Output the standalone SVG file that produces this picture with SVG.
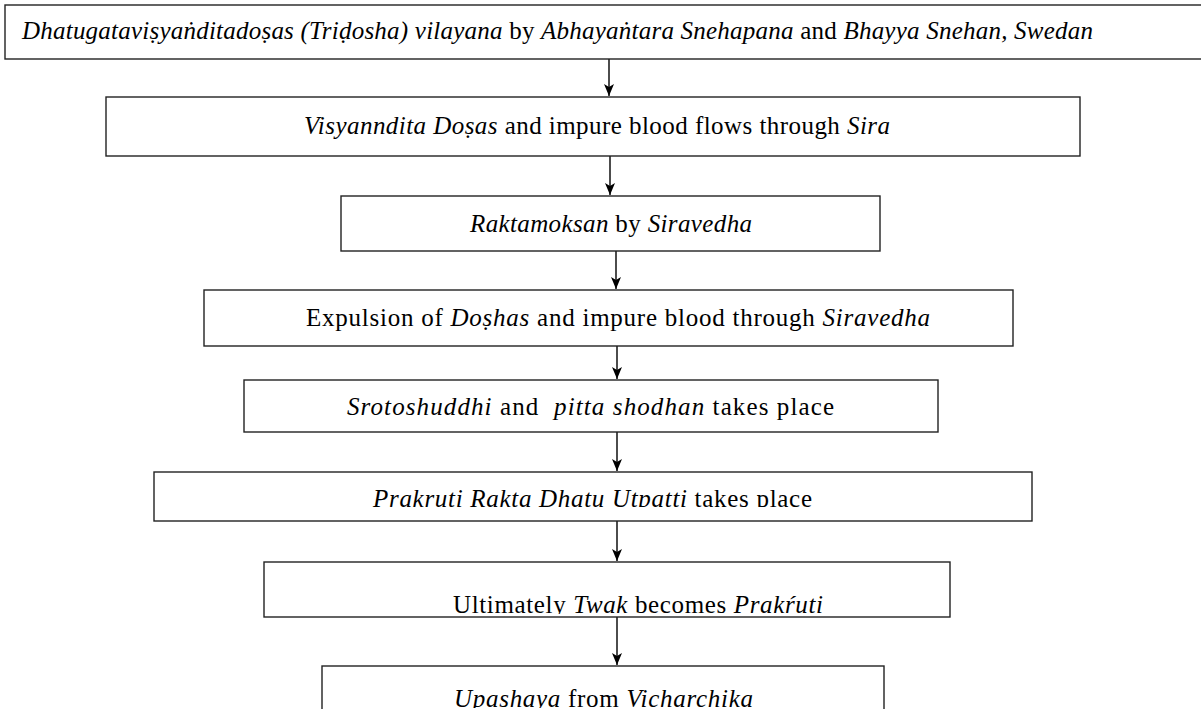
<svg xmlns="http://www.w3.org/2000/svg" width="1201" height="709" viewBox="0 0 1201 709">
<style>
.box{fill:#fff;stroke:#222;stroke-width:1.4}
.t{font-family:"Liberation Serif","Times New Roman",Tinos,serif;font-size:25px;fill:#000}
.i{font-style:italic}
.c{stroke:#000;stroke-width:1.4;fill:none}
</style>
<defs>
<marker id="ah" markerWidth="13" markerHeight="13" viewBox="0 0 13 13" refX="12" refY="6.5" orient="auto" markerUnits="userSpaceOnUse">
<path d="M0,1.5 L12,6.5 L0,11.5 L3,6.5 Z" fill="#000"/>
</marker>
<clipPath id="cp6"><rect x="154" y="472" width="878" height="35"/></clipPath>
<clipPath id="cp7"><rect x="264" y="562" width="686" height="52"/></clipPath>
<clipPath id="cp8"><rect x="322" y="666" width="562" height="42"/></clipPath>
</defs>
<g id="connectors">
<line class="c" x1="609" y1="59" x2="609" y2="96" marker-end="url(#ah)"/>
<line class="c" x1="610" y1="156" x2="610" y2="195" marker-end="url(#ah)"/>
<line class="c" x1="616" y1="251" x2="616" y2="289" marker-end="url(#ah)"/>
<line class="c" x1="617" y1="346" x2="617" y2="379" marker-end="url(#ah)"/>
<line class="c" x1="617" y1="432" x2="617" y2="471" marker-end="url(#ah)"/>
<line class="c" x1="617" y1="521" x2="617" y2="561" marker-end="url(#ah)"/>
<line class="c" x1="617" y1="617" x2="617" y2="665" marker-end="url(#ah)"/>
</g>
<g id="n1">
<rect class="box" x="5" y="5" width="1210" height="54"/>
<text class="t" x="22" y="39" textLength="1071" lengthAdjust="spacing"><tspan class="i">Dhatugataviṣyaṅditadoṣas (Triḍosha) vilayana</tspan> by <tspan class="i">Abhayaṅtara Snehapana</tspan> and <tspan class="i">Bhayya Snehan, Swedan</tspan></text>
</g>
<g id="n2">
<rect class="box" x="106" y="97" width="974" height="59"/>
<text class="t" x="304" y="134" textLength="586" lengthAdjust="spacing"><tspan class="i">Visyanndita Doṣas</tspan> and impure blood flows through <tspan class="i">Sira</tspan></text>
</g>
<g id="n3">
<rect class="box" x="341" y="196" width="539" height="55"/>
<text class="t" x="470" y="232" textLength="282" lengthAdjust="spacing"><tspan class="i">Raktamoksan</tspan> by <tspan class="i">Siravedha</tspan></text>
</g>
<g id="n4">
<rect class="box" x="204" y="290" width="809" height="56"/>
<text class="t" x="306" y="326" textLength="624" lengthAdjust="spacing">Expulsion of <tspan class="i">Doṣhas</tspan> and impure blood through <tspan class="i">Siravedha</tspan></text>
</g>
<g id="n5">
<rect class="box" x="244" y="380" width="694" height="52"/>
<text class="t" x="347" y="415" textLength="487" lengthAdjust="spacing"><tspan class="i">Srotoshuddhi</tspan> and &#160;<tspan class="i">pitta shodhan</tspan> takes place</text>
</g>
<g id="n6">
<rect class="box" x="154" y="472" width="878" height="49"/>
<text class="t" x="373" y="507" textLength="439" lengthAdjust="spacing" clip-path="url(#cp6)"><tspan class="i">Prakruti Rakta Dhatu Utpatti</tspan> takes place</text>
</g>
<g id="n7">
<rect class="box" x="264" y="562" width="686" height="55"/>
<text class="t" x="453" y="613" textLength="370" lengthAdjust="spacing" clip-path="url(#cp7)">Ultimately <tspan class="i">Twak</tspan> becomes <tspan class="i">Prakŕuti</tspan></text>
</g>
<g id="n8">
<rect class="box" x="322" y="666" width="562" height="60"/>
<text class="t" x="454" y="707" textLength="299" lengthAdjust="spacing" clip-path="url(#cp8)"><tspan class="i">Upashaya</tspan> from <tspan class="i">Vicharchika</tspan></text>
</g>
</svg>
